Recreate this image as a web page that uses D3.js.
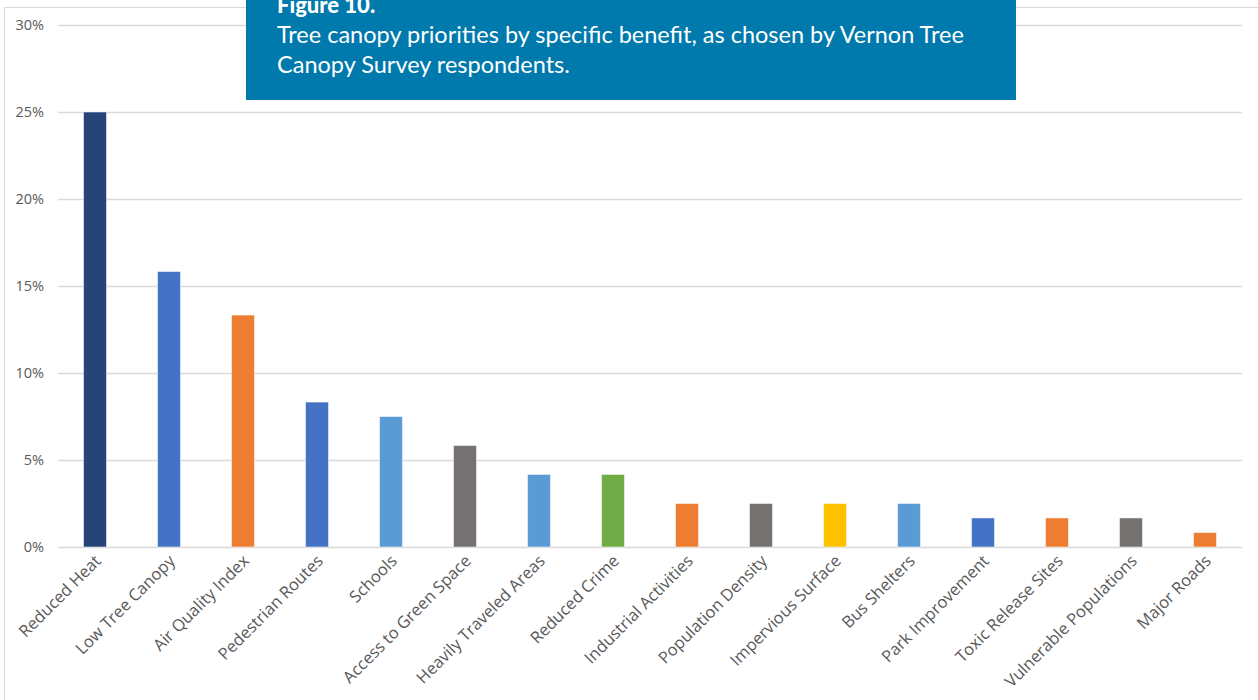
<!DOCTYPE html>
<html><head><meta charset="utf-8">
<script src="https://cdn.jsdelivr.net/npm/d3@7"></script>
<style>body{margin:0;background:#fff;}svg{display:block;}</style>
</head><body>
<svg id="chart" width="1258" height="700"></svg>
<script>
const categories = ["Reduced Heat","Low Tree Canopy","Air Quality Index","Pedestrian Routes","Schools","Access to Green Space","Heavily Traveled Areas","Reduced Crime","Industrial Activities","Population Density","Impervious Surface","Bus Shelters","Park Improvement","Toxic Release Sites","Vulnerable Populations","Major Roads"];
const values = [25.0,15.83,13.33,8.33,7.5,5.83,4.17,4.17,2.5,2.5,2.5,2.5,1.67,1.67,1.67,0.83];
const barColors = ["#264478","#4472C4","#ED7D31","#4472C4","#5B9BD5","#767171","#5B9BD5","#70AD47","#ED7D31","#767171","#FFC000","#5B9BD5","#4472C4","#ED7D31","#767171","#ED7D31"];
const yTicks = [0,5,10,15,20,25,30];
const titleText = "Figure 10.";
const subtitleLines = ["Tree canopy priorities by specific benefit, as chosen by Vernon Tree","Canopy Survey respondents."];

const svg = d3.select("#chart");
// chart frame
svg.append("line").attr("x1",4.5).attr("x2",4.5).attr("y1",7.5).attr("y2",700).attr("stroke","#d9d9d9");
svg.append("line").attr("x1",4.5).attr("x2",1258).attr("y1",7.5).attr("y2",7.5).attr("stroke","#d9d9d9");

const x = d3.scaleBand().domain(categories).range([58,1242]).paddingInner(0.69).paddingOuter(0.345);
const y = d3.scaleLinear().domain([0,30]).range([547,25]);

const grid = svg.append("g");
grid.selectAll("line").data(yTicks).join("line")
  .attr("x1",58).attr("x2",1242)
  .attr("y1",d=>Math.round(y(d))+0.5).attr("y2",d=>Math.round(y(d))+0.5)
  .attr("stroke","#d9d9d9").attr("stroke-width",1.5);

const yAxis = svg.append("g").attr("transform","translate(44,0)")
  .call(d3.axisLeft(y).tickValues(yTicks).tickFormat(d=>d+"%").tickSize(0).tickPadding(0));
yAxis.select(".domain").remove();
yAxis.selectAll("text").attr("fill","#595959").style("font-family","'Open Sans',sans-serif").style("font-size","14.5px");

svg.append("g").selectAll("rect").data(values).join("rect")
  .attr("x",(d,i)=>x(categories[i]))
  .attr("width",x.bandwidth())
  .attr("y",d=>y(d))
  .attr("height",d=>y(0)-y(d))
  .attr("fill",(d,i)=>barColors[i])
  .attr("stroke","rgba(255,255,255,0.5)").attr("stroke-width",1);

const xAxis = svg.append("g").attr("transform","translate(0,547)")
  .call(d3.axisBottom(x).tickSize(0).tickPadding(0));
xAxis.select(".domain").remove();
xAxis.selectAll("text")
  .attr("fill","#595959")
  .style("font-family","'Open Sans',sans-serif").style("font-size","16.5px")
  .attr("text-anchor","end").attr("dy",null).attr("y",0)
  .attr("transform","translate(7,15) rotate(-45)");

// title box
svg.append("rect").attr("x",246).attr("y",0).attr("width",770).attr("height",100).attr("fill","#0079AC");
svg.append("text").attr("x",277).attr("y",13).text(titleText)
  .attr("fill","#fff").style("font-family","Lato,sans-serif").style("font-weight","900").style("font-size","22px");
svg.append("g").selectAll("text").data(subtitleLines).join("text")
  .attr("x",277).attr("y",(d,i)=>43+i*30).text(d=>d)
  .attr("fill","#fff").style("font-family","Lato,sans-serif").style("font-size","23.5px");
</script>
</body></html>
